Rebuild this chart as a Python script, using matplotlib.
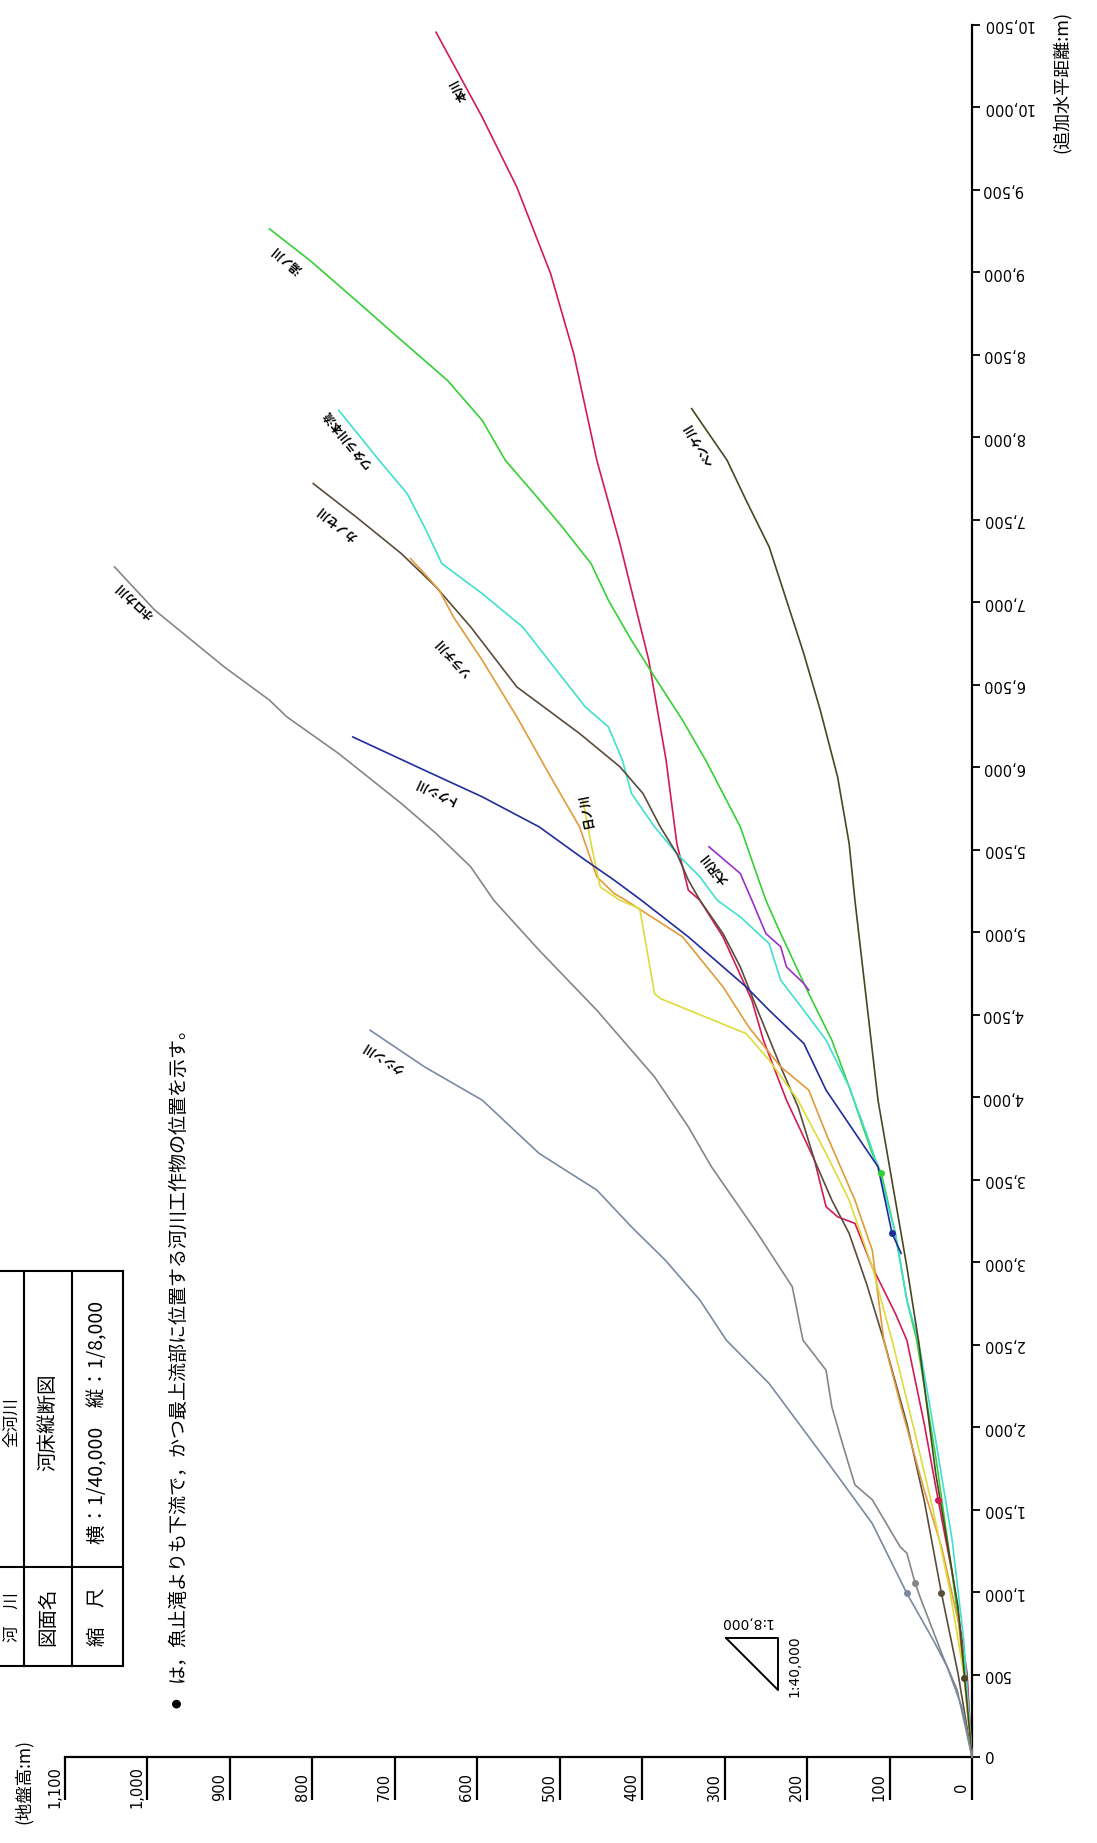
import math
import matplotlib
matplotlib.use("Agg")
import matplotlib.pyplot as plt
from matplotlib.lines import Line2D

# 📐 Output size (px)
W, H = 1097, 1843
JP = ["Noto Sans CJK JP", "DejaVu Sans"]
plt.rcParams["font.family"] = ["DejaVu Sans", "Noto Sans CJK JP"]

# 📊 River profiles: elevation (m) vs cumulative horizontal distance (m)
hon_elev = [650, 594, 552, 511, 483, 455, 427, 392, 385, 371, 358, 344, 330, 302, 267, 253,
            225, 191, 177, 163, 142, 121, 93, 79, 58, 41, 24, 6, 0]
hon_dist = [10456, 9941, 9517, 8992, 8507, 7861, 7356, 6649, 6447, 6043, 5538, 5255, 5194, 4972,
            4588, 4346, 3982, 3618, 3336, 3275, 3235, 2972, 2689, 2527, 2022, 1557, 1113, 507, 0]

yuno_elev = [852, 803, 747, 692, 636, 594, 566, 531, 497, 462, 441, 413, 385, 351, 323, 302,
             281, 260, 250, 232, 198, 170, 149, 121, 110, 93, 79, 67, 44, 24, 8, 0]
yuno_dist = [9264, 9073, 8830, 8588, 8345, 8103, 7861, 7659, 7457, 7235, 7013, 6770, 6548, 6285,
             6043, 5841, 5639, 5336, 5194, 4992, 4628, 4346, 4063, 3659, 3538, 3174, 2770, 2527,
             1820, 1113, 507, 0]

honryu_elev = [768, 719, 685, 664, 643, 594, 545, 504, 469, 441, 424, 413, 385, 358, 330, 309,
               281, 246, 232, 204, 177, 149, 128, 114, 93, 79, 65, 44, 24, 10, 0]
honryu_dist = [8164, 7861, 7659, 7457, 7235, 7053, 6851, 6589, 6366, 6245, 6043, 5841, 5639, 5477,
               5336, 5194, 5093, 4931, 4709, 4527, 4346, 4063, 3780, 3578, 3174, 2770, 2527, 1920,
               1313, 707, 0]

kanose_elev = [799, 747, 692, 650, 608, 552, 525, 476, 427, 399, 378, 358, 344, 330, 302, 281,
               260, 232, 211, 191, 170, 149, 128, 107, 79, 58, 37, 17, 0]
kanose_dist = [7720, 7518, 7295, 7093, 6851, 6487, 6387, 6205, 6003, 5841, 5639, 5477, 5316, 5194,
               4992, 4790, 4527, 4184, 3942, 3618, 3376, 3174, 2871, 2527, 2022, 1557, 992, 507, 0]

sorachi_elev = [681, 664, 646, 629, 594, 552, 511, 476, 455, 434, 420, 351, 302, 270, 232, 198,
                177, 142, 121, 107, 86, 58, 37, 16, 0]
sorachi_dist = [7265, 7174, 7073, 6912, 6649, 6306, 5942, 5639, 5336, 5235, 5194, 4972, 4669, 4420,
                4184, 4043, 3780, 3376, 3073, 2527, 2123, 1618, 1275, 808, 0]

hino_elev = [472, 462, 451, 427, 403, 385, 378, 274, 246, 211, 177, 149, 121, 97, 72, 48, 27, 10, 0]
hino_dist = [5801, 5538, 5275, 5194, 5143, 4628, 4598, 4386, 4224, 3982, 3659, 3376, 2972, 2527,
             2022, 1517, 1012, 507, 0]

osawa_elev = [319, 281, 267, 250, 232, 225, 204, 198]
osawa_dist = [5518, 5356, 5194, 4992, 4912, 4790, 4689, 4649]

tokushi_elev = [751, 664, 594, 525, 469, 434, 401, 344, 274, 246, 204, 177, 114, 97, 86]
tokushi_dist = [6184, 5982, 5821, 5639, 5437, 5316, 5194, 4972, 4669, 4527, 4326, 4043, 3578, 3176, 3053]

penke_elev = [340, 297, 274, 246, 225, 204, 184, 163, 149, 142, 128, 114, 93, 79, 65, 44, 17, 0]
penke_dist = [8174, 7861, 7619, 7336, 7013, 6689, 6346, 5942, 5538, 5194, 4588, 3982, 3376, 2972,
              2527, 1719, 911, 0]

horoka_elev = [1040, 991, 907, 852, 831, 768, 692, 650, 608, 580, 525, 455, 385, 344, 316, 260,
               218, 205, 177, 170, 156, 142, 121, 87, 79, 69, 63, 35, 18, 0]
horoka_dist = [7215, 6952, 6609, 6407, 6306, 6083, 5780, 5599, 5397, 5194, 4891, 4527, 4123, 3820,
               3578, 3174, 2851, 2527, 2345, 2123, 1881, 1650, 1560, 1273, 1236, 1054, 970, 606, 406, 0]

kushin_elev = [730, 664, 594, 525, 455, 413, 372, 330, 298, 246, 177, 121, 79, 47, 30, 11, 0]
kushin_dist = [4406, 4184, 3982, 3659, 3437, 3214, 3012, 2770, 2527, 2264, 1800, 1416, 992, 709, 545, 285, 0]

# 📍 River structure positions (●)
mark_names = ["本川", "ホロカ川", "クシン川", "カノセ川", "トクシ川", "湯ノ川", "ペンケ川"]
mark_elev = [41, 69, 79, 37, 97, 110, 10]
mark_dist = [1557, 1054, 992, 992, 3176, 3538, 479]

# 🏷 Label positions (elevation, distance)
river_names = ["本川", "湯ノ川", "ワタラ川本流", "カノセ川", "ソラチ川", "日ノ川", "大沢川",
               "トクシ川", "ペンケ川", "ホロカ川", "クシン川"]
label_elev = [622, 830, 758, 770, 630, 468, 312, 655, 330, 1015, 713]
label_dist = [10110, 9080, 7990, 7480, 6670, 5740, 5390, 5860, 7960, 7010, 4240]

elev_ticks = list(range(0, 1101, 100))
dist_ticks = list(range(0, 10501, 500))

# 🎨 Styles
rivers = [
    (hon_elev, hon_dist, "#d41a55"),
    (yuno_elev, yuno_dist, "#35d035"),
    (honryu_elev, honryu_dist, "#3fe0cf"),
    (kanose_elev, kanose_dist, "#5a4c3c"),
    (sorachi_elev, sorachi_dist, "#e39a3a"),
    (hino_elev, hino_dist, "#dcdc3a"),
    (osawa_elev, osawa_dist, "#9a30c8"),
    (tokushi_elev, tokushi_dist, "#202c9c"),
    (penke_elev, penke_dist, "#4a4620"),
    (horoka_elev, horoka_dist, "#868686"),
    (kushin_elev, kushin_dist, "#7a8aa2"),
]
colors = {n: r[2] for n, r in zip(river_names, rivers)}


def fpx(x, y):
    return x / W, 1 - y / H


fig = plt.figure(figsize=(W / 100, H / 100), dpi=100, facecolor="white")
x0, y0 = fpx(65, 1757)
x1, y1 = fpx(972, 25)
ax = fig.add_axes([x0, y0, x1 - x0, y1 - y0])
ax.set_xlim(1100, 0)
ax.set_ylim(0, 10500)
ax.patch.set_alpha(0)

for sp in ["top", "left"]:
    ax.spines[sp].set_visible(False)
for sp in ["bottom", "right"]:
    ax.spines[sp].set_linewidth(1.6)

ax.set_xticks(elev_ticks)
ax.set_yticks(dist_ticks)
ax.tick_params(axis="x", direction="out", length=31, width=1.6, labelbottom=False)
ax.yaxis.tick_right()
ax.tick_params(axis="y", direction="out", length=6, width=1.3, labelright=False)

# 🔢 Tick labels
for v in elev_ticks:
    ax.annotate(f"{v:,}", xy=(v, 0), xycoords=("data", "axes fraction"),
                xytext=(-2, -21.5), textcoords="offset points",
                rotation=90, ha="right", va="center", fontsize=10.5)
for v in dist_ticks[1:]:
    ax.annotate(f"{v:,}", xy=(1, v), xycoords=("axes fraction", "data"),
                xytext=(7, 0), textcoords="offset points",
                rotation=180, ha="left", va="center", fontsize=10.5)
ax.annotate("0", xy=(0, 0), xycoords="data", xytext=(9, -2), textcoords="offset points",
            ha="left", va="center", fontsize=11)

# 📈 Profiles
for el, di, c in rivers:
    ax.plot(el, di, color=c, lw=1.2, clip_on=False, zorder=3)

for n, e, d in zip(mark_names, mark_elev, mark_dist):
    ax.plot(e, d, "o", color=colors[n], ms=4, zorder=4, clip_on=False)

# river name labels along each line
for (el, di, c), name, le, ld in zip(rivers, river_names, label_elev, label_dist):
    p0 = ax.transData.transform((el[0], di[0]))
    p1 = ax.transData.transform((el[2], di[2]))
    ang = math.degrees(math.atan2(p0[1] - p1[1], p0[0] - p1[0]))
    ax.text(le, ld, name, rotation=ang, rotation_mode="anchor", ha="center", va="center",
            fontsize=8.5, fontweight="bold", family=JP, zorder=5)

# 🏷 Axis captions
fig.text(*fpx(24, 1782), "(地盤高:m)", rotation=90, ha="center", va="center",
         fontsize=12.5, family=JP)
fig.text(*fpx(1062, 82), "(追加水平距離:m)", rotation=90, ha="center", va="center",
         fontsize=13, family=JP)

# 📝 Note
fig.text(*fpx(177, 1703), "●", rotation=90, ha="center", va="center", fontsize=7, family=JP)
fig.text(*fpx(177, 1682), "は，魚止滝よりも下流で，かつ最上流部に位置する河川工作物の位置を示す。",
         rotation=90, ha="center", va="bottom", fontsize=13.7, family=JP)

# 📋 Title block
def fline(xs, ys, lw=1.5):
    fx = [x / W for x in xs]
    fy = [1 - y / H for y in ys]
    fig.add_artist(Line2D(fx, fy, color="black", lw=lw, transform=fig.transFigure))


for xx in [24, 72, 123]:
    fline([xx, xx], [1271, 1666])
for yy in [1271, 1567, 1666]:
    fline([0, 123], [yy, yy])

cells = [
    (12, "河　川", "全河川"),
    (48, "図面名", "河床縦断図"),
    (97.5, "縮　尺", "横：1/40,000　縦：1/8,000"),
]
for cx, head, val in cells:
    fs = 12 if cx < 20 else 14
    fig.text(*fpx(cx, 1617), head, rotation=90, ha="center", va="center", fontsize=fs, family=JP)
    fig.text(*fpx(cx, 1422), val, rotation=90, ha="center", va="center", fontsize=fs, family=JP)

# 📐 Scale triangle
fline([726, 778, 778, 726], [1638, 1638, 1690, 1638], lw=1.4)
fig.text(*fpx(746, 1622), "1:8,000", rotation=180, ha="center", va="center", fontsize=10)
fig.text(*fpx(794, 1666), "1:40,000", rotation=90, ha="center", va="center", fontsize=10)

plt.savefig("out.png", dpi=100, facecolor="white")
plt.close()
print("✅ saved out.png")
